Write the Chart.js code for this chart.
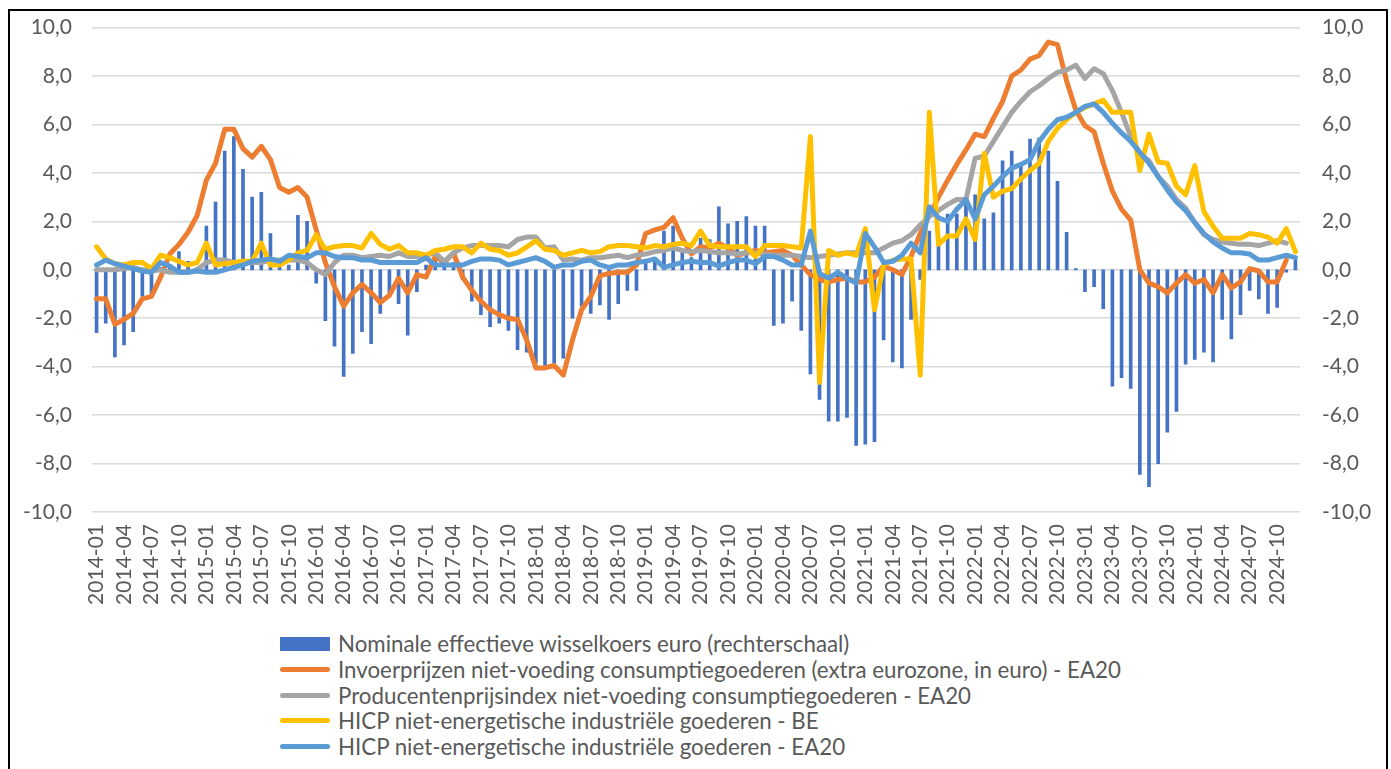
<!DOCTYPE html>
<html>
<head>
<meta charset="utf-8">
<script src="https://cdn.jsdelivr.net/npm/chart.js@4.4.1/dist/chart.umd.min.js"></script>
<style>
  body { margin: 0; background: #fff; overflow: hidden; }
  .frame {
    position: absolute; left: 8px; top: 9px; width: 1376px; height: 800px;
    border: 2px solid #000;
  }
  #chart-prices { position: absolute; left: 0; top: -7px; }
  .legend {
    position: absolute; left: 280px; top: 631px;
    font-family: Lato, sans-serif; font-size: 22.3px; color: #595959;
  }
  .legend-item { display: flex; align-items: center; height: 25.7px; white-space: nowrap; }
  .swatch { width: 50px; margin-right: 8px; }
</style>
</head>
<body>
<div class="frame"></div>
<canvas id="chart-prices" width="1391" height="629"></canvas>
<div class="legend" id="legend"></div>
<script>
const ctx = document.getElementById("chart-prices").getContext("2d");

// maanden 2014-01 .. 2024-12
const months = [];
for (let y = 2014; y <= 2024; y++) {
  for (let m = 1; m <= 12; m++) {
    months.push(y + "-" + (m < 10 ? "0" + m : m));
  }
}

const yTicks = [-10, -8, -6, -4, -2, 0, 2, 4, 6, 8, 10];

const wisselkoers = [
  -2.6, -2.2, -3.6, -3.1, -2.55, -1.1, -1.0, 0.1, 0.2, 0.75, 0.35, 0.1,
  1.8, 2.8, 4.9, 5.5, 4.15, 3.0, 3.2, 1.5, 0.1, 0.2, 2.25, 2.0,
  -0.55, -2.1, -3.15, -4.4, -3.45, -2.55, -3.05, -1.8, -0.95, -1.4, -2.7, -0.9,
  0.2, 0.6, 0.4, 0.3, -0.4, -1.3, -1.85, -2.35, -2.2, -2.5, -3.3, -3.4,
  -3.85, -3.95, -3.85, -3.65, -2.0, -1.5, -1.8, -1.45, -2.05, -1.4, -0.85, -0.85,
  0.3, 0.4, 1.6, 1.8, 0.8, 0.5, 1.3, 1.25, 2.6, 1.9, 2.0, 2.2,
  1.8, 1.8, -2.3, -2.2, -1.3, -2.5, -4.3, -5.35, -6.25, -6.25, -6.1, -7.25,
  -7.2, -7.1, -2.9, -3.8, -4.05, -2.05, -0.4, 1.6, 1.0, 2.3, 2.3, 2.7,
  3.1, 2.1, 2.35, 4.5, 4.9, 4.3, 5.4, 5.45, 4.9, 3.65, 1.55, 0.05,
  -0.9, -0.7, -1.6, -4.8, -4.45, -4.9, -8.45, -8.95, -8.0, -6.7, -5.85, -3.9,
  -3.7, -3.4, -3.8, -2.05, -2.85, -1.85, -0.85, -1.2, -1.8, -1.55, -0.1, 0.4
];

const invoerprijzen = [
  -1.2, -1.2, -2.25, -2.05, -1.8, -1.2, -1.1, -0.3, 0.65, 1.05, 1.55, 2.25,
  3.7, 4.4, 5.8, 5.8, 5.0, 4.65, 5.1, 4.55, 3.4, 3.2, 3.4, 3.0,
  1.65, 0.3, -0.7, -1.5, -0.95, -0.6, -0.95, -1.35, -1.05, -0.35, -0.95, -0.2,
  -0.3, 0.55, 0.3, 0.7, -0.3, -0.85, -1.3, -1.65, -1.85, -2.0, -2.05, -2.9,
  -4.05, -4.05, -3.95, -4.35, -2.9, -1.65, -1.1, -0.25, -0.15, -0.1, -0.1, 0.2,
  1.5, 1.65, 1.75, 2.15, 1.3, 0.65, 0.95, 0.9, 1.1, 0.9, 0.6, 0.7,
  0.8, 0.7, 0.75, 0.8, 0.6, 0.2, -0.2, -0.4, -0.5, -0.4, -0.35, -0.5,
  -0.5, -0.3, 0.15, 0.0, -0.2, 0.55, 1.5, 2.25, 3.0, 3.7, 4.35, 4.95,
  5.6, 5.5, 6.25, 6.95, 8.0, 8.25, 8.7, 8.85, 9.4, 9.3, 7.8, 6.6,
  5.95, 5.7, 4.4, 3.25, 2.5, 2.05, 0.0, -0.55, -0.7, -0.95, -0.55, -0.2,
  -0.55, -0.4, -0.95, -0.2, -0.75, -0.5, 0.05, -0.05, -0.5, -0.5, 0.4, null
];

const producentenprijs = [
  0.0, 0.0, 0.0, 0.05, 0.1, 0.0, -0.05, 0.0, -0.1, -0.1, -0.1, 0.0,
  0.3, 0.4, 0.4, 0.3, 0.3, 0.3, 0.3, 0.4, 0.4, 0.4, 0.4, 0.3,
  0.0, -0.2, 0.3, 0.6, 0.6, 0.5, 0.55, 0.6, 0.55, 0.7, 0.55, 0.55,
  0.6, 0.7, 0.35, 0.7, 0.9, 1.0, 1.0, 1.0, 1.0, 0.95, 1.25, 1.35,
  1.35, 0.9, 0.95, 0.4, 0.45, 0.4, 0.5, 0.5, 0.55, 0.6, 0.5, 0.6,
  0.65, 0.75, 0.8, 0.9, 0.8, 0.75, 0.8, 0.75, 0.7, 0.7, 0.65, 0.7,
  0.7, 0.65, 0.6, 0.6, 0.6, 0.55, 0.5, 0.55, 0.6, 0.65, 0.7, 0.7,
  0.7, 0.7, 0.9, 1.1, 1.2, 1.45, 1.85, 2.2, 2.45, 2.7, 2.9, 2.9,
  4.6, 4.7, 5.3, 5.9, 6.5, 6.95, 7.35, 7.6, 7.9, 8.15, 8.25, 8.45,
  7.9, 8.3, 8.1, 7.4, 6.5, 5.5, 4.8, 4.5, 3.85, 3.45, 2.9, 2.55,
  1.95, 1.45, 1.25, 1.15, 1.1, 1.05, 1.05, 1.0, 1.1, 1.2, 1.1, null
];

const hicpBE = [
  0.95, 0.45, 0.25, 0.2, 0.3, 0.3, 0.05, 0.6, 0.5, 0.35, 0.2, 0.3,
  1.1, 0.2, 0.25, 0.3, 0.35, 0.35, 1.1, 0.2, 0.2, 0.4, 0.7, 0.8,
  1.45, 0.85, 0.95, 1.0, 1.0, 0.9, 1.5, 1.05, 0.85, 1.0, 0.7, 0.7,
  0.6, 0.8, 0.85, 0.95, 0.95, 0.7, 1.1, 0.85, 0.8, 0.6, 0.7, 0.95,
  1.2, 0.85, 0.8, 0.6, 0.7, 0.8, 0.7, 0.75, 0.95, 1.0, 1.0, 0.95,
  0.9, 1.0, 0.95, 1.05, 1.1, 1.0, 1.6, 1.0, 0.95, 0.95, 0.95, 0.95,
  0.55, 1.0, 1.0, 1.0, 0.95, 0.9, 5.5, -4.65, 0.8, 0.6, 0.7, 0.6,
  1.7, -1.65, 0.2, 0.4, 0.45, 0.45, -4.35, 6.5, 1.05, 1.4, 1.4, 2.1,
  1.25, 4.8, 3.0, 3.25, 3.35, 3.75, 4.1, 4.4, 5.3, 5.85, 6.2, 6.5,
  6.7, 6.85, 7.0, 6.5, 6.5, 6.5, 4.1, 5.6, 4.45, 4.4, 3.45, 3.1,
  4.3, 2.4, 1.8, 1.3, 1.3, 1.3, 1.5, 1.45, 1.35, 1.1, 1.7, 0.75
];

const hicpEA20 = [
  0.2, 0.4, 0.25, 0.15, 0.05, -0.05, -0.1, 0.3, 0.15, -0.1, -0.1, -0.05,
  -0.1, -0.1, 0.0, 0.1, 0.2, 0.35, 0.4, 0.45, 0.35, 0.6, 0.55, 0.5,
  0.7, 0.7, 0.55, 0.5, 0.5, 0.4, 0.4, 0.3, 0.3, 0.3, 0.3, 0.3,
  0.5, 0.2, 0.2, 0.2, 0.2, 0.35, 0.45, 0.45, 0.4, 0.2, 0.3, 0.4,
  0.5, 0.35, 0.1, 0.2, 0.2, 0.35, 0.4, 0.2, 0.1, 0.2, 0.2, 0.3,
  0.35, 0.45, 0.1, 0.2, 0.3, 0.35, 0.3, 0.3, 0.15, 0.3, 0.4, 0.4,
  0.25, 0.55, 0.55, 0.4, 0.2, 0.2, 1.6, -0.15, -0.35, -0.1, -0.35, -0.55,
  1.5, 0.95, 0.3, 0.35, 0.6, 1.1, 0.7, 2.6, 2.15, 2.0, 2.5, 2.9,
  2.1, 3.1, 3.45, 3.85, 4.2, 4.35, 4.55, 5.3, 5.8, 6.2, 6.3, 6.5,
  6.75, 6.85, 6.5, 6.05, 5.65, 5.3, 4.85, 4.4, 3.85, 3.3, 2.8, 2.45,
  1.95, 1.5, 1.15, 0.9, 0.7, 0.7, 0.65, 0.4, 0.4, 0.5, 0.6, 0.5
];

const FONT = "Lato, sans-serif";
const TEXT = "#595959";

function fmt(v) {
  return v.toFixed(1).replace(".", ",");
}

function lineSet(label, data, color, order) {
  return {
    type: "line",
    label: label,
    data: data,
    borderColor: color,
    backgroundColor: color,
    borderWidth: 5,
    pointRadius: 0,
    tension: 0,
    borderJoinStyle: "round",
    borderCapStyle: "round",
    yAxisID: "y",
    order: order,
  };
}

const chart = new Chart(ctx, {
  type: "bar",
  data: {
    labels: months,
    datasets: [
      {
        type: "bar",
        label: "Nominale effectieve wisselkoers euro (rechterschaal)",
        data: wisselkoers,
        backgroundColor: "#4472C4",
        barThickness: 3,
        yAxisID: "y1",
        order: 5,
      },
      lineSet("Invoerprijzen niet-voeding consumptiegoederen (extra eurozone, in euro) - EA20", invoerprijzen, "#ED7D31", 4),
      lineSet("Producentenprijsindex niet-voeding consumptiegoederen - EA20", producentenprijs, "#A5A5A5", 3),
      lineSet("HICP niet-energetische industriële goederen - BE", hicpBE, "#FFC000", 2),
      lineSet("HICP niet-energetische industriële goederen - EA20", hicpEA20, "#5B9BD5", 1),
    ],
  },
  options: {
    responsive: false,
    animation: false,
    layout: { padding: { top: 21, left: 0, right: 0, bottom: 0 } },
    plugins: {
      legend: { display: false },
      tooltip: { enabled: false },
    },
    scales: {
      x: {
        grid: { display: false, drawTicks: false },
        border: { display: false },
        ticks: {
          autoSkip: false,
          minRotation: 90,
          maxRotation: 90,
          padding: 12,
          color: TEXT,
          font: { family: FONT, size: 21 },
          callback: function (value, index) {
            return index % 3 === 0 ? months[index] : "";
          },
        },
        afterFit: function (scale) {
          scale.height = 110;
        },
      },
      y: {
        position: "left",
        min: -10,
        max: 10,
        afterBuildTicks: function (scale) {
          scale.ticks = yTicks.map(function (v) { return { value: v }; });
        },
        grid: { color: "#D9D9D9", lineWidth: 1.5, drawTicks: false },
        border: { display: false },
        ticks: {
          padding: 20,
          color: TEXT,
          font: { family: FONT, size: 21 },
          callback: function (value) { return fmt(value); },
        },
        afterFit: function (scale) {
          scale.width = 92;
        },
      },
      y1: {
        position: "right",
        min: -10,
        max: 10,
        afterBuildTicks: function (scale) {
          scale.ticks = yTicks.map(function (v) { return { value: v }; });
        },
        grid: { display: false, drawTicks: false },
        border: { display: false },
        ticks: {
          padding: 22,
          color: TEXT,
          font: { family: FONT, size: 21 },
          callback: function (value) { return fmt(value); },
        },
        afterFit: function (scale) {
          scale.width = 91;
        },
      },
    },
  },
});

// legenda onder de grafiek, één item per regel
const legend = document.getElementById("legend");
chart.data.datasets.forEach(function (ds) {
  const item = document.createElement("div");
  item.className = "legend-item";
  const sw = document.createElement("span");
  sw.className = "swatch";
  if (ds.type === "bar") {
    sw.style.height = "14px";
    sw.style.background = ds.backgroundColor;
  } else {
    sw.style.height = "5px";
    sw.style.borderRadius = "3px";
    sw.style.background = ds.borderColor;
  }
  item.appendChild(sw);
  item.appendChild(document.createTextNode(ds.label));
  legend.appendChild(item);
});
</script>
</body>
</html>
